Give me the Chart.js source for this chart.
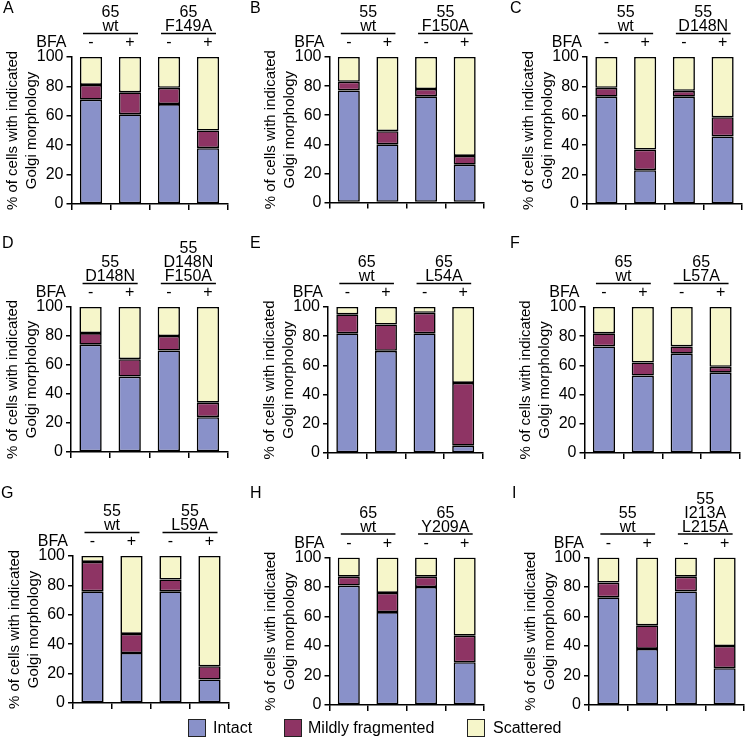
<!DOCTYPE html>
<html>
<head>
<meta charset="utf-8">
<script src="https://cdn.jsdelivr.net/npm/chart.js@4"></script>
<style>
  body { margin: 0; background: #fff; }
  #wrap { position: relative; width: 745px; height: 746px; overflow: hidden; font-family: "Liberation Sans", Arial, sans-serif; }
  #wrap canvas { position: absolute; left: 0; top: 0; }
  .letter { position: absolute; font-size: 16px; line-height: 16px; color: #000; }
  .legend { position: absolute; top: 719px; font-size: 16px; line-height: 18px; color: #000; white-space: nowrap; }
  .legend span.box { position: absolute; top: 0; width: 16px; height: 16px; border: 1px solid #222; }
  .legend span.txt { position: absolute; top: 0; }
</style>
</head>
<body>
<div id="wrap"></div>

<script>
// data (% of cells), bars: -BFA / +BFA for each construct
const panelNames = ['A', 'B', 'C', 'D', 'E', 'F', 'G', 'H', 'I'];
const bfaLabels = ['-', '+', '-', '+'];

const intact = [
    [71, 61, 68, 38],
    [77, 40, 73, 26],
    [73, 23, 73, 46],
    [74, 52, 70, 24],
    [82, 70, 82, 5],
    [73, 53, 68, 55],
    [76, 34, 76, 16],
    [81, 63, 80, 29],
    [73, 38, 77, 25]
];
const mildlyFragmented = [
    [10, 15, 11, 12],
    [6, 9, 5, 6],
    [6, 14, 4, 13],
    [8, 12, 10, 10],
    [13, 18, 14, 43],
    [9, 9, 5, 4],
    [20, 13, 8, 9],
    [6, 13, 7, 18],
    [10, 16, 10, 15]
];
const scattered = [
    [19, 24, 21, 50],
    [17, 51, 22, 68],
    [21, 63, 23, 41],
    [18, 36, 20, 66],
    [5, 12, 4, 52],
    [18, 38, 27, 41],
    [4, 53, 16, 75],
    [13, 24, 13, 53],
    [17, 46, 13, 60]
];
const groupLabels = [
    [['65', 'wt'], ['65', 'F149A']],
    [['55', 'wt'], ['55', 'F150A']],
    [['55', 'wt'], ['55', 'D148N']],
    [['55', 'D148N'], ['55', 'D148N', 'F150A']],
    [['65', 'wt'], ['65', 'L54A']],
    [['65', 'wt'], ['65', 'L57A']],
    [['55', 'wt'], ['55', 'L59A']],
    [['65', 'wt'], ['65', 'Y209A']],
    [['55', 'wt'], ['55', 'I213A', 'L215A']]
];
const seriesNames = ['Intact', 'Mildly fragmented', 'Scattered'];
const yTicks = [0, 20, 40, 60, 80, 100];

// layout of the plot areas on the page [left, right, top, bottom]
const boxes = [
    [71.5, 227.5, 57, 204],
    [329.5, 484, 57, 202.5],
    [587, 742, 57, 204],
    [71, 227.5, 307, 452],
    [328, 482.5, 307, 453],
    [584.5, 740, 307, 453],
    [73, 229, 556, 703],
    [329.5, 484, 557.5, 705],
    [589, 744, 557.5, 705]
];
const letterPos = [[3, 0], [250, 0], [510, 0], [2, 235], [250, 235], [510, 235], [1, 485], [250, 485], [512, 485]];

const colors = ['rgb(137, 145, 201)', 'rgb(142, 52, 100)', 'rgb(246, 246, 202)'];
const W = 745, H = 746, Y_W = 70, X_H = 10;
const narrow = '"Liberation Sans Narrow", "Arial Narrow", "Liberation Sans", sans-serif';

const groupLabelPlugin = {
    id: 'groupLabels',
    afterDraw(chart, args, opts) {
        const ctx = chart.ctx;
        const x = chart.scales.x;
        const top = chart.chartArea.top;
        ctx.save();
        ctx.fillStyle = '#000';
        ctx.strokeStyle = '#000';
        ctx.font = '16px ' + narrow;
        ctx.textAlign = 'center';
        ctx.textBaseline = 'alphabetic';
        opts.groups.forEach((lines, g) => {
            const c1 = x.getPixelForValue(g * 2);
            const c2 = x.getPixelForValue(g * 2 + 1);
            const mid = (c1 + c2) / 2;
            const half = (c2 - c1) / 2 + 8;
            const lineY = top - 23.5;
            ctx.lineWidth = 1.5;
            ctx.beginPath();
            ctx.moveTo(mid - half, lineY);
            ctx.lineTo(mid + half, lineY);
            ctx.stroke();
            lines.forEach((t, i) => {
                ctx.fillText(t, mid, lineY - 2.5 - (lines.length - 1 - i) * 14);
            });
        });
        ctx.textBaseline = 'middle';
        ctx.textAlign = 'right';
        ctx.fillText('BFA', x.left - 5, top - 14);
        ctx.textAlign = 'center';
        opts.bfa.forEach((t, i) => ctx.fillText(t, x.getPixelForValue(i), top - 14));
        ctx.restore();
    }
};

const wrap = document.getElementById('wrap');

function drawPanel(p) {
    const [L, R, T, B] = boxes[p];
    const canvas = document.createElement('canvas');
    canvas.width = W;
    canvas.height = H;
    wrap.appendChild(canvas);

    const values = [intact[p], mildlyFragmented[p], scattered[p]];
    new Chart(canvas.getContext('2d'), {
        type: 'bar',
        data: {
            labels: bfaLabels,
            datasets: values.map((v, i) => ({
                label: seriesNames[i],
                data: v,
                backgroundColor: colors[i],
                borderColor: '#000',
                borderWidth: 1.6,
                borderSkipped: false,
                barPercentage: 0.57,
                categoryPercentage: 1
            }))
        },
        options: {
            responsive: false,
            animation: false,
            layout: { padding: { left: L - Y_W, right: W - R, top: T, bottom: H - B - X_H } },
            plugins: {
                legend: { display: false },
                tooltip: { enabled: false },
                groupLabels: { groups: groupLabels[p], bfa: bfaLabels }
            },
            scales: {
                x: {
                    stacked: true,
                    ticks: { display: false },
                    grid: { offset: true, drawOnChartArea: false, drawTicks: true, tickLength: 6, color: '#000', lineWidth: 1.5 },
                    border: { color: '#000', width: 1.5 },
                    afterFit: s => { s.height = X_H; }
                },
                y: {
                    stacked: true,
                    min: 0,
                    max: 100,
                    afterBuildTicks: s => { s.ticks = yTicks.map(v => ({ value: v })); },
                    ticks: { color: '#000', padding: 3, font: { family: narrow, size: 16 } },
                    grid: { drawOnChartArea: false, drawTicks: true, tickLength: 5, color: '#000', lineWidth: 1.5 },
                    border: { color: '#000', width: 1.5 },
                    title: {
                        display: true,
                        text: ['% of cells with indicated', 'Golgi morphology'],
                        color: '#000',
                        font: { family: narrow, size: 15, lineHeight: 1.27 },
                        padding: { top: 2, bottom: 0 }
                    },
                    afterFit: s => { s.width = Y_W; }
                }
            }
        },
        plugins: [groupLabelPlugin]
    });

    const letter = document.createElement('div');
    letter.className = 'letter';
    letter.textContent = panelNames[p];
    letter.style.left = letterPos[p][0] + 'px';
    letter.style.top = letterPos[p][1] + 'px';
    wrap.appendChild(letter);
}

panelNames.forEach((name, p) => drawPanel(p));

// legend along the bottom
const legendX = [[188, 213], [284, 308], [467, 493]];
seriesNames.forEach((name, i) => {
    const item = document.createElement('div');
    item.className = 'legend';
    item.style.left = '0px';
    item.innerHTML = '<span class="box" style="left:' + legendX[i][0] + 'px;background:' + colors[i] + '"></span>' +
        '<span class="txt" style="left:' + legendX[i][1] + 'px">' + name + '</span>';
    wrap.appendChild(item);
});
</script>
</body>
</html>
